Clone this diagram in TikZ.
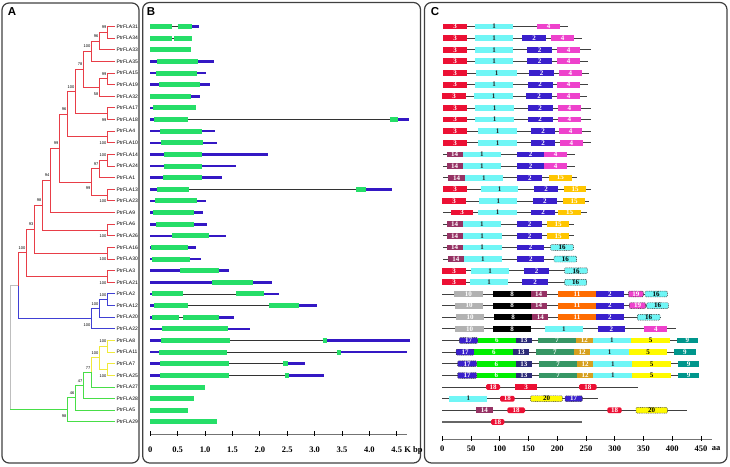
\documentclass[tikz,border=0pt]{standalone}
\usepackage{fontspec}
\setmainfont{Liberation Serif}
\setsansfont{Liberation Sans}
\usepackage{tikz}
\usetikzlibrary{calc}
\definecolor{treered}{RGB}{232,62,72}
\definecolor{treeblue}{RGB}{64,64,212}
\definecolor{treeyellow}{RGB}{240,234,60}
\definecolor{treegreen}{RGB}{72,222,72}
\definecolor{treegrey}{RGB}{190,190,190}
\definecolor{exongreen}{RGB}{38,222,104}
\definecolor{utrblue}{RGB}{52,24,196}
\definecolor{mred}{RGB}{236,16,52}
\definecolor{mcyan}{RGB}{112,246,246}
\definecolor{mpink}{RGB}{238,66,204}
\definecolor{mblue}{RGB}{58,32,204}
\definecolor{mplum}{RGB}{150,50,100}
\definecolor{mgold}{RGB}{255,198,0}
\definecolor{mgrey}{RGB}{178,178,178}
\definecolor{morange}{RGB}{255,108,0}
\definecolor{mgreen}{RGB}{0,238,0}
\definecolor{mnavy}{RGB}{44,44,120}
\definecolor{mseagreen}{RGB}{54,150,100}
\definecolor{molive}{RGB}{214,160,30}
\definecolor{myellow}{RGB}{255,250,0}
\definecolor{mteal}{RGB}{0,150,140}
% row of a gene, in pixels from the top
\newcommand\ry[1]{26.5+11.63*(#1-1)}
\tikzset{
  panelframe/.style={draw=black!75, line width=1.2pt, rounded corners=7pt},
  panellabel/.style={font=\fontsize{11.5}{12}\selectfont\sffamily\bfseries, inner sep=0pt},
  leaf/.style={anchor=west, inner sep=1.5pt, font=\fontsize{5}{6}\selectfont\sffamily},
  branch/.style={line width=1pt},
  bs/.style={anchor=east, inner sep=.5pt, font=\fontsize{4}{5}\selectfont\sffamily},
  bsup/.style={bs, yshift=4.8pt},
  bsdown/.style={bs, yshift=-6.2pt},
  segE/.style={draw=exongreen, line width=5pt},
  segU/.style={draw=utrblue, line width=2.6pt},
  segI/.style={draw=black!80, line width=.7pt},
  cline/.style={draw=black!75, line width=.8pt},
  cthick/.style={draw=black!60, line width=1.6pt},
  axisline/.style={draw=black!55, line width=.8pt},
  axistick/.style={draw=black, line width=.8pt},
  axislabel/.style={font=\fontsize{8.5}{9}\selectfont\bfseries, inner sep=1pt},
  motif/.style={inner sep=0pt, minimum height=5.8pt, text=white,
    font=\fontsize{7}{7}\selectfont\bfseries},
  mdash/.style={draw=black!80, line width=.45pt, dash pattern=on 1pt off .8pt,
    rounded corners=1pt},
  mot1/.style={fill=mcyan, text=black!85},
  mot2/.style={fill=mblue},
  mot3/.style={fill=mred},
  mot4/.style={fill=mpink},
  mot5/.style={fill=myellow, text=black},
  mot6/.style={fill=mgreen},
  mot7/.style={fill=mseagreen},
  mot8/.style={fill=black},
  mot9/.style={fill=mteal},
  mot10/.style={fill=mgrey},
  mot11/.style={fill=morange},
  mot12/.style={fill=molive},
  mot13/.style={fill=mnavy},
  mot14/.style={fill=mplum},
  mot15/.style={fill=mgold},
  mot16/.style={fill=mcyan, mdash, text=black},
  mot17/.style={fill=mblue, mdash},
  mot18/.style={fill=mred, rounded corners=1.5pt},
  mot19/.style={fill=mpink, mdash},
  mot20/.style={fill=myellow, mdash, text=black}
}

\begin{document}
\begin{tikzpicture}[x=1pt,y=-1pt]
\useasboundingbox (0,0) rectangle (730,466);

% panels
\draw[panelframe] (2,3) rectangle (139,463);
\draw[panelframe] (142.7,2.5) rectangle (420.5,463);
\draw[panelframe] (424.5,2.5) rectangle (727,463);
\node[panellabel] (labA) at (12,12) {A};
\node[panellabel] (labB) at (151,12) {B};
\node[panellabel] (labC) at (435,12) {C};

% A: tree
\foreach \r/\n in {1/31,2/34,3/33,4/35,5/15,6/19,7/32,8/17,9/18,10/4,11/10,12/14,
  13/24,14/1,15/13,16/23,17/9,18/6,19/26,20/16,21/30,22/3,23/21,24/2,25/12,26/20,
  27/22,28/8,29/11,30/7,31/25,32/27,33/28,34/5,35/29}
  \node[leaf] (L\r) at (115,{\ry{\r}}) {PtrFLA\n};

\foreach \c/\x/\r in {a1/107/1.5, a2/99/2.25, a3/91/3.125, b1/107/5.5, b2/99/6.25,
  ab/83/4.6875, c1/107/8.5, abc/75/6.59375, d1/107/10.5, abcd/67/8.546875,
  e1/107/12.5, e2/99/13.25, e3/107/15.5, e4/91/14.375, f/59/11.4609375,
  gg/50/14.23046875, h1/107/18.5, h/42/16.365234, i1/107/20.5, i/34/18.432617,
  j1/107/22.5, nred/26/20.466309, k1/107/24.5, k2/99/25.25, nblue/91/26.125,
  rb/18/23.295654, y1/107/28.5, y2/107/30.5, yel/99/29.5, g1/91/30.75,
  g2/83/31.875, g3/75/32.9375, ngreen/67/33.96875, root/10/28.632202}
  \coordinate (\c) at (\x,{\ry{\r}});

\foreach \p/\c in {a1/L1, a1/L2, a2/a1, a2/L3, a3/a2, a3/L4, b1/L5, b1/L6, b2/b1,
  b2/L7, ab/a3, ab/b2, c1/L8, c1/L9, abc/ab, abc/c1, d1/L10, d1/L11, abcd/abc,
  abcd/d1, e1/L12, e1/L13, e2/e1, e2/L14, e3/L15, e3/L16, e4/e2, e4/e3, f/abcd,
  f/e4, gg/f, gg/L17, h1/L18, h1/L19, h/gg, h/h1, i1/L20, i1/L21, i/h, i/i1,
  j1/L22, j1/L23, nred/i, nred/j1, rb/nred}
  \draw[branch, treered] (\p) |- (\c);
\foreach \p/\c in {k1/L24, k1/L25, k2/k1, k2/L26, nblue/k2, nblue/L27, rb/nblue}
  \draw[branch, treeblue] (\p) |- (\c);
\foreach \p/\c in {y1/L28, y1/L29, y2/L30, y2/L31, yel/y1, yel/y2, g1/yel}
  \draw[branch, treeyellow] (\p) |- (\c);
\foreach \p/\c in {g1/L32, g2/g1, g2/L33, g3/g2, g3/L34, ngreen/g3, ngreen/L35}
  \draw[branch, treegreen] (\p) |- (\c);
\draw[branch, treegrey] (root) |- (rb);
\draw[branch, treegrey] (root) -- (root |- ngreen);
\draw[branch, treegreen] (root |- ngreen) -- (ngreen);

% bootstrap values
\foreach \c/\v/\s in {a1/99/bsup, a2/96/bsup, a3/100/bsup, b1/99/bsup, b2/58/bsdown,
  ab/78/bsup, c1/99/bsdown, abc/100/bsup, d1/100/bsdown, abcd/96/bsup, e1/100/bsup,
  e2/97/bsup, e3/100/bsdown, e4/99/bsdown, f/99/bsup, gg/94/bsup, h1/100/bsdown,
  h/98/bsup, i1/100/bsdown, i/93/bsup, j1/100/bsdown, nred/100/bsup, k1/100/bsup,
  k2/100/bsup, nblue/100/bsdown, y1/100/bsup, y2/100/bsdown, yel/100/bsup,
  g1/77/bsup, g2/47/bsup, g3/46/bsup, ngreen/98/bsdown}
  \node[\s] (bs-\c) at (\c) {\v};

% B: gene structure
\foreach \r/\segs in {
  1/{E/150/171.7,I/171.7/177.7,E/177.7/192.3,U/192.3/199.3},
  2/{E/150/172.3,I/172.3/174,E/174/191.7},
  3/{E/150/191},
  4/{U/150/156.7,E/156.7/198,U/198/214.3},
  5/{U/150/155.7,E/155.7/197.3,U/197.3/205.7},
  6/{U/150/159,E/159/200,U/200/210},
  7/{E/150/190.7,U/190.7/199.7},
  8/{U/150/153.3,E/153.3/195.7},
  9/{U/150/154,E/154/188,I/188/390,E/390/398,U/398/409},
  10/{U/150/160,E/160/202.3,U/202.3/215},
  11/{U/150/161.3,E/161.3/203.3,U/203.3/217},
  12/{U/150/164,E/164/201.7,U/201.7/267.7},
  13/{U/150/163.7,E/163.7/201.7,U/201.7/236},
  14/{U/150/163.3,E/163.3/201.7,U/201.7/222.3},
  15/{U/150/157,E/157/189,I/189/356.3,E/356.3/366.3,U/366.3/392},
  16/{U/150/155,E/155/196.7,U/196.7/206.3},
  17/{U/150/152.7,E/152.7/194,U/194/203.3},
  18/{U/150/156,E/156/194,U/194/207},
  19/{U/150/172,E/172/209,U/209/225.7},
  20/{U/150/151,E/151/187.7,U/187.7/196},
  21/{U/150/152,E/152/190,U/190/200.7},
  22/{U/150/180,E/180/218.7,U/218.7/228.7},
  23/{U/150/212,E/212/253.3,U/253.3/271.7},
  24/{U/150/152,E/152/183,I/183/236,E/236/264,U/264/279.3},
  25/{U/150/154.3,E/154.3/187.7,I/187.7/269,E/269/299,U/299/316.7},
  26/{U/150/152,E/152/178.7,I/178.7/183.3,E/183.3/218.7,U/218.7/234},
  27/{U/150/162.3,E/162.3/228.3,U/228.3/250},
  28/{U/150/161.3,E/161.3/230.3,I/230.3/322.7,E/322.7/327.3,U/327.3/409.7},
  29/{U/150/159,E/159/227.3,I/227.3/337,E/337/341,U/341/406.7},
  30/{U/150/160,E/160/229,I/229/283,E/283/287.7,U/287.7/305},
  31/{U/150/160,E/160/229,I/229/284.7,E/284.7/289,U/289/323.7},
  32/{E/150/205},
  33/{E/150/194},
  34/{E/150/187.7},
  35/{E/150/217}}{
  \pgfmathsetmacro\y{\ry{\r}}
  \foreach \t/\a/\b in \segs
    \draw[seg\t] (\a,\y) -- (\b,\y);
}

\draw[axisline] (150.3,434) -- (406.7,434);
\foreach \v [count=\k] in {0,0.5,1.0,1.5,2.0,2.5,3.0,3.5,4.0,4.5}{
  \draw[axistick] ({150.3+54.76*\v},431) -- ++(0,5);
  \node[axislabel] (kb\k) at ({150.3+54.76*\v},450) {\v};
}
\node[axislabel, anchor=west] (kbunit) at (kb10.east) {K bp};

% C: conserved motifs
\foreach \r/\lo/\hi/\ls/\mots in {
  1/443.3/567.7/cline/{3/443.3/466.7,1/475/513,4/537/560},
  2/443.3/581.7/cline/{3/443.3/466.7,1/475/513,2/521.7/546.3,4/551.3/574},
  3/443.3/590.7/cline/{3/443.3/466.7,1/475/513,2/527/552.3,4/557/580},
  4/443.3/588/cline/{3/443.3/466.7,1/475/513,2/527/552.3,4/557/580},
  5/443.3/589.3/cline/{3/443.3/466.7,1/476/517.3,2/529/554,4/559/581.7},
  6/443.3/588.3/cline/{3/443.3/466.7,1/475/513,2/527.7/552.7,4/557/580},
  7/442.3/587.3/cline/{3/442.3/465.7,1/474.3/513,2/526.3/551.7,4/557/580},
  8/443.3/591/cline/{3/443.3/466.7,1/475/514,2/527.7/552.7,4/558/580.7},
  9/443.3/591/cline/{3/443.3/466.7,1/475/514,2/527.7/552.7,4/558/580.7},
  10/443.3/591/cline/{3/443.3/466.7,1/478.3/516.7,2/531/555.3,4/559.3/581.7},
  11/443.3/591/cline/{3/443.3/466.7,1/478.3/516.7,2/531/555.3,4/560/582.7},
  12/443.3/575/cline/{14/446.7/462.7,1/462.7/501,2/517/544,4/544/567},
  13/443.3/575/cline/{14/446.7/462.7,1/462.7/501,2/517/544,4/544/567},
  14/443.3/576.7/cline/{14/448.3/464.7,1/464.7/503,2/517.3/542.3,15/549/571.7},
  15/443.3/591/cline/{3/443.3/466.7,1/480.7/518.3,2/534/558.3,15/564/586},
  16/442.3/589.3/cline/{3/442.3/465.7,1/479.3/517.3,2/532.7/557,15/563/585.3},
  17/443.3/587.3/cline/{3/450.7/473.3,1/478.3/516.7,2/531/555.3,15/558.3/581},
  18/443.3/574.3/cline/{14/446.7/462.7,1/462.7/501,2/517/542.3,15/546.7/569.3},
  19/443.3/574.3/cline/{14/446.7/462.7,1/462.7/501.7,2/517/542,15/546.7/569.3},
  20/443.3/574/cline/{14/446.7/462.7,1/462.7/501.7,2/517/544,16/550.7/573.3},
  21/443.3/576.7/cline/{14/447.7/464,1/464/501.7,2/517.3/544.3,16/554/576.7},
  22/442.3/587.3/cline/{3/442.3/465.7,1/471/509,2/524/549,16/564.7/587.3},
  23/442.3/587/cline/{3/442.3/465.7,1/470/508,2/522.3/548,16/564.7/586.7},
  24/442.3/667.3/cline/{10/454/482.7,8/493.3/530.7,14/530.7/546.7,11/558/596,2/596/623.7,19/628.3/643.3,16/645/667.3},
  25/442.3/668.3/cline/{10/455/483.3,8/493.3/530.7,14/530.7/546.7,11/558/596,2/596/623.7,19/629.3/645.7,16/646.7/668.3},
  26/442.3/661/cline/{10/456/484,8/494/532.3,14/532.3/548.3,11/558/596,2/596/623.7,16/637.3/660},
  27/442.3/675.7/cline/{10/455/484,8/493.3/530.7,1/545/582.7,2/597.7/625,4/644.3/667.3},
  28/442.3/698/cline/{17/459.3/477.7,6/477.7/516,13/516/531.7,7/538/576,12/576/592.7,1/592.7/631,5/631/670,9/676.7/698},
  29/442.3/695.7/cline/{17/456/474.3,6/474.3/513.3,13/513.3/529,7/535.7/574,12/574/590,1/590/629,5/629/667.3,9/674/695.7},
  30/442.3/699.3/cline/{17/457.7/476.7,6/476.7/516,13/516/531.7,7/539/577,12/577/593.3,1/593.3/632.3,5/632.3/671,9/678/699.3},
  31/442.3/699.3/cline/{17/457.7/476.7,6/476.7/516,13/516/531.7,7/539/577,12/577/593.3,1/593.3/632.3,5/632.3/671,9/678/699.3},
  32/442.3/638.3/cline/{18/486/500,3/515/537.3,18/579/596.7},
  33/442.3/598.3/cline/{1/449.3/487.3,18/500/514.7,20/530.7/562.3,17/565/582.3},
  34/442.3/686.7/cline/{14/476/492.7,18/507.3/525,18/607.3/621.7,20/636/667.3},
  35/442.3/581.7/cthick/{18/491/504.3}}{
  \pgfmathsetmacro\y{\ry{\r}}
  \draw[\ls] (\lo,\y) -- (\hi,\y);
  \foreach \m/\a/\b [count=\k] in \mots{
    \pgfmathsetmacro\w{\b-\a}
    \node[motif, mot\m, minimum width=\w pt] (m\r-\k) at ({(\a+\b)/2},\y) {\m};
  }
}

\draw[axisline] (442.3,439.3) -- (711.7,439.3);
\foreach \v in {0,50,...,450}{
  \draw[axistick] ({442.3+0.5749*\v},436) -- ++(0,4.5);
  \node[axislabel] (aa\v) at ({442.3+0.5749*\v},449) {\v};
}
\node[axislabel, anchor=west] (aaunit) at ([xshift=2pt]aa450.east) {aa};
\end{tikzpicture}
\end{document}
